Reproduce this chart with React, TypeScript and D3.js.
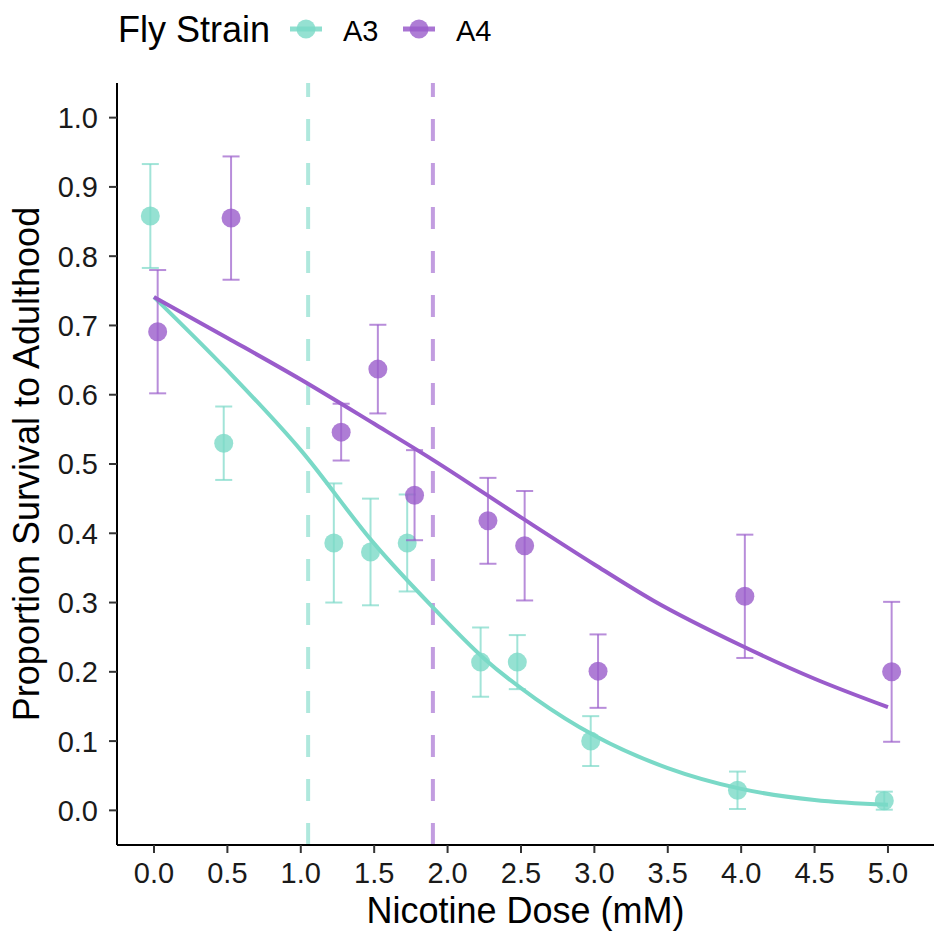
import { scaleLinear, line, curveMonotoneX } from "d3";

const doses = [0, 0.5, 1.25, 1.5, 1.75, 2.25, 2.5, 3, 4, 5];

const a3Mean = [0.858, 0.53, 0.386, 0.373, 0.386, 0.214, 0.214, 0.1, 0.029, 0.014];
const a3Se = [0.075, 0.053, 0.086, 0.077, 0.07, 0.05, 0.039, 0.036, 0.027, 0.013];
const a4Mean = [0.691, 0.855, 0.546, 0.637, 0.455, 0.418, 0.382, 0.201, 0.309, 0.2];
const a4Se = [0.089, 0.089, 0.041, 0.064, 0.065, 0.062, 0.079, 0.053, 0.089, 0.101];

// fitted curves
const a3FitDose = [0, 0.5, 1.0, 1.5, 1.9, 2.25, 2.6, 3.0, 3.5, 4.0, 4.5, 5.0];
const a3Fit = [0.741, 0.635, 0.52, 0.385, 0.293, 0.219, 0.161, 0.108, 0.061, 0.031, 0.015, 0.008];
const a4FitDose = [0, 0.5, 1.0, 1.5, 1.9, 2.5, 3.0, 3.4, 4.0, 4.5, 5.0];
const a4Fit = [0.741, 0.682, 0.622, 0.558, 0.506, 0.423, 0.355, 0.303, 0.238, 0.19, 0.149];

// LD50 markers
const ld50 = [1.05, 1.9];

const xTicks = [0, 0.5, 1, 1.5, 2, 2.5, 3, 3.5, 4, 4.5, 5];
const yTicks = [0, 0.1, 0.2, 0.3, 0.4, 0.5, 0.6, 0.7, 0.8, 0.9, 1.0];

const strains = ["A3", "A4"];
const colors = ["#7ad9c7", "#9a5ccb"];

const font = "'Liberation Sans', Arial, Helvetica, sans-serif";

const App = () => {
  const width = 934;
  const height = 932;
  const panel = { left: 117, right: 934, top: 83, bottom: 845 };

  const x = scaleLinear().domain([-0.252, 5.3]).range([panel.left, 932]);
  const y = scaleLinear().domain([-0.05, 1.05]).range([panel.bottom, panel.top]);

  const dodge = 0.025;
  const capHalf = 0.058;

  const series = [
    { mean: a3Mean, se: a3Se, off: -dodge, fitX: a3FitDose, fitY: a3Fit },
    { mean: a4Mean, se: a4Se, off: dodge, fitX: a4FitDose, fitY: a4Fit },
  ];

  const path = line<number>()
    .x((d) => x(d))
    .curve(curveMonotoneX);

  return (
    <svg
      width={width}
      height={height}
      style={{ position: "absolute", left: 0, top: 0, background: "#fff" }}
      fontFamily={font}
    >
      {/* LD50 dashed lines */}
      {ld50.map((v, i) => (
        <line
          key={`ld-${i}`}
          x1={x(v)}
          x2={x(v)}
          y1={panel.bottom}
          y2={panel.top}
          stroke={colors[i]}
          strokeOpacity={0.6}
          strokeWidth={4}
          strokeDasharray="22 22"
        />
      ))}

      {/* fitted curves */}
      {series.map((s, i) => {
        const p = line<number>()
          .x((d) => x(d))
          .y((_, j) => y(s.fitY[j]))
          .curve(curveMonotoneX);
        return (
          <path
            key={`fit-${i}`}
            d={p(s.fitX) || ""}
            fill="none"
            stroke={colors[i]}
            strokeWidth={4}
          />
        );
      })}

      {/* error bars and points */}
      {series.map((s, i) => (
        <g key={`pts-${i}`}>
          {doses.map((d, j) => {
            const cx = x(d + s.off);
            const lo = y(s.mean[j] - s.se[j]);
            const hi = y(s.mean[j] + s.se[j]);
            const c0 = x(d + s.off - capHalf);
            const c1 = x(d + s.off + capHalf);
            return (
              <g key={`e-${j}`} stroke={colors[i]} strokeOpacity={0.7} strokeWidth={2}>
                <line x1={cx} x2={cx} y1={lo} y2={hi} />
                <line x1={c0} x2={c1} y1={lo} y2={lo} />
                <line x1={c0} x2={c1} y1={hi} y2={hi} />
              </g>
            );
          })}
          {doses.map((d, j) => (
            <circle
              key={`p-${j}`}
              cx={x(d + s.off)}
              cy={y(s.mean[j])}
              r={9.5}
              fill={colors[i]}
              fillOpacity={0.8}
            />
          ))}
        </g>
      ))}

      {/* axes */}
      <line x1={panel.left} x2={panel.right} y1={panel.bottom} y2={panel.bottom} stroke="#000" strokeWidth={2} />
      <line x1={panel.left} x2={panel.left} y1={panel.top} y2={panel.bottom} stroke="#000" strokeWidth={2} />
      {xTicks.map((t) => (
        <g key={`xt-${t}`}>
          <line x1={x(t)} x2={x(t)} y1={panel.bottom} y2={panel.bottom + 8} stroke="#333" strokeWidth={2} />
          <text x={x(t)} y={883} textAnchor="middle" fontSize={29} fill="#1a1a1a">
            {t.toFixed(1)}
          </text>
        </g>
      ))}
      {yTicks.map((t) => (
        <g key={`yt-${t}`}>
          <line x1={panel.left - 8} x2={panel.left} y1={y(t)} y2={y(t)} stroke="#333" strokeWidth={2} />
          <text x={98} y={y(t)} dy="0.36em" textAnchor="end" fontSize={29} fill="#1a1a1a">
            {t.toFixed(1)}
          </text>
        </g>
      ))}

      <text x={(panel.left + panel.right) / 2} y={923} textAnchor="middle" fontSize={36} fill="#000">
        Nicotine Dose (mM)
      </text>
      <text
        transform={`translate(39, ${(panel.top + panel.bottom) / 2}) rotate(-90)`}
        textAnchor="middle"
        fontSize={36}
        fill="#000"
      >
        Proportion Survival to Adulthood
      </text>

      {/* legend */}
      <text x={118} y={42} fontSize={36} fill="#000">
        Fly Strain
      </text>
      {strains.map((s, i) => {
        const kx = 290 + i * 113;
        return (
          <g key={`lg-${s}`}>
            <line x1={kx} x2={kx + 32} y1={29} y2={29} stroke={colors[i]} strokeWidth={5} strokeOpacity={0.85} />
            <circle cx={kx + 16} cy={29} r={9.5} fill={colors[i]} fillOpacity={0.8} />
            <text x={kx + 53} y={41} fontSize={29} fill="#000">
              {s}
            </text>
          </g>
        );
      })}
    </svg>
  );
};

export default App;
